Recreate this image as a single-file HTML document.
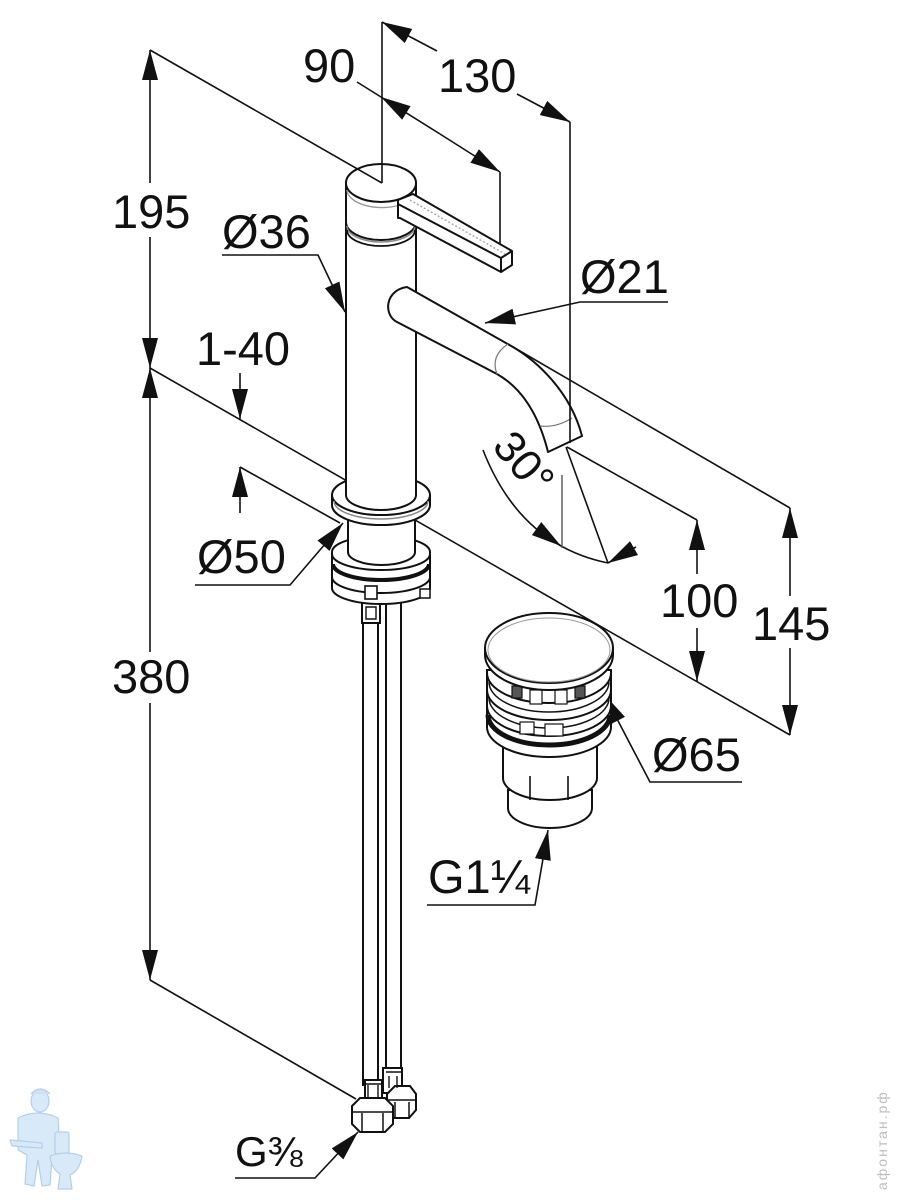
<!DOCTYPE html>
<html><head><meta charset="utf-8"><style>
html,body{margin:0;padding:0;background:#fff;}
svg{display:block;}
text{font-family:"Liberation Sans",Arial,sans-serif;fill:#111;}
</style></head><body>
<svg width="900" height="1200" viewBox="0 0 900 1200" xmlns="http://www.w3.org/2000/svg">
<defs>
<marker id="m" viewBox="0 0 30 16" refX="30" refY="8" markerWidth="30" markerHeight="16" markerUnits="userSpaceOnUse" orient="auto-start-reverse"><path d="M0,0L30,8L0,16z" fill="#111"/></marker>
</defs>
<rect width="900" height="1200" fill="#fff"/>

<!-- dimension / extension lines (back) -->
<g stroke="#111" stroke-width="1.6" fill="none">
<path d="M150,50V183" marker-start="url(#m)"/>
<path d="M150,237V368" marker-end="url(#m)"/>
<path d="M150,368V652" marker-start="url(#m)"/>
<path d="M150,703V980" marker-end="url(#m)"/>
<path d="M150,368L790,735"/>
<path d="M240,467L340,523"/>
<path d="M240,373V419" marker-end="url(#m)"/>
<path d="M240,513V467" marker-end="url(#m)"/>
<path d="M150,980L356,1099"/>
<path d="M382,22L437,51" marker-start="url(#m)"/>
<path d="M517,94L570,122" marker-end="url(#m)"/>
<path d="M357,82L381,97"/>
<path d="M440,134L381,97" marker-end="url(#m)"/>
<path d="M440,134L500,172" marker-end="url(#m)"/>
<path d="M500,172V257"/>
<path d="M513,347L790,508"/>
<path d="M790,508V596" marker-start="url(#m)"/>
<path d="M790,648V735" marker-end="url(#m)"/>
<path d="M567,447L697,520"/>
<path d="M697,520V574" marker-start="url(#m)"/>
<path d="M697,628V681" marker-end="url(#m)"/>
<path d="M483,450Q520,545 608,563"/>
<path d="M540,531L561,546" marker-end="url(#m)"/>
<path d="M636,547L608,563" marker-end="url(#m)"/>
<path d="M566,447L608,563"/>
<path d="M222,255H318L345,312" marker-end="url(#m)"/>
<path d="M668,302H580L485,323" marker-end="url(#m)"/>
<path d="M195,585H290L343,523" marker-end="url(#m)"/>
<path d="M742,782H650L604,694" marker-end="url(#m)"/>
<path d="M427,905H535L548,830" marker-end="url(#m)"/>
<path d="M235,1178H315L358,1132" marker-end="url(#m)"/>
</g>
<path d="M562,475V548" stroke="#555" stroke-width="1.4"/>

<!-- hoses -->
<g stroke="#111" stroke-width="2" fill="#fff">
<rect x="386" y="598" width="15" height="480"/>
<rect x="363" y="610" width="15" height="475"/>
<path d="M362,603h18v20h-18z"/>
<path d="M366,607h10v12h-10z" stroke-width="1.4"/>
<!-- bottom fittings right -->
<path d="M383,1068h19v25h-19z"/>
<path d="M387,1094l8,-8h15l6,8v16l-7,8h-15l-7,-8z"/>
<path d="M387,1100h29M395,1102v16M409,1102v16" stroke-width="1.5" fill="none"/>
<path d="M386,1072h16M389,1076v12M397,1076v12" stroke-width="1.4" fill="none"/>
<!-- bottom fittings left -->
<path d="M365,1080h17v24h-17z"/>
<path d="M352,1106l8,-8h25l8,8v18l-8,8h-25l-8,-8z"/>
<path d="M352,1112h41M362,1113v19M383,1113v19" stroke-width="1.5" fill="none"/>
<path d="M368,1085v13M378,1085v13M365,1084h17" stroke-width="1.4" fill="none"/>
</g>

<!-- base ring stack -->
<g stroke="#111" stroke-width="2" fill="#fff">
<path d="M332,552L332,588A49,16 0 0 0 430,588L430,552A49,16 0 0 0 332,552Z"/>
<path d="M332,554A49,16 0 0 0 430,554" fill="none"/>
<path d="M333,564A48,16 0 0 0 429,564" fill="none" stroke-width="4"/>
<path d="M332,577A49,16 0 0 0 430,577" fill="none"/>
<rect x="365" y="586" width="12" height="13" stroke-width="1.6"/>
<rect x="420" y="589" width="10" height="9" stroke-width="1.5"/>
<!-- neck -->
<path d="M348,512V552A33.5,13 0 0 0 415,552V512Z"/>
<!-- flange -->
<path d="M332,495L332,505A49,20 0 0 0 430,505L430,495Z"/>
<ellipse cx="381" cy="495" rx="49" ry="20"/>
</g>
<path d="M334,501A47,18 0 0 0 428,501" stroke="#888" stroke-width="1.5" fill="none"/>

<!-- stem -->
<path d="M346,222V495A35,15 0 0 0 416,495V222Z" fill="#fff"/>
<path d="M346,222V495A35,15 0 0 0 416,495V222" stroke="#111" stroke-width="2" fill="none"/>

<!-- head -->
<g stroke="#111" stroke-width="2" fill="#fff">
<path d="M346,183L346,222A35,18 0 0 0 416,222L416,183Z"/>
<ellipse cx="381" cy="183" rx="35" ry="19"/>
</g>
<path d="M347,190A35,18 0 0 0 400,205" stroke="#999" stroke-width="1.4" fill="none"/>
<path d="M347,226A34,16 0 0 0 415,226" stroke="#888" stroke-width="1.5" fill="none"/>
<path d="M347,230A34,16 0 0 0 415,230" stroke="#111" stroke-width="1.8" fill="none"/>

<!-- lever -->
<g stroke="#111" stroke-width="2" fill="#fff" stroke-linejoin="round">
<path d="M398,200L413,194L512,251L512,265L501,272L400,218L398,218Z"/>
<path d="M398,204L501,258L512,251M501,258V272" fill="none"/>
</g>
<path d="M410,200L505,254" stroke="#aaa" stroke-width="1.5" stroke-dasharray="2 2" fill="none"/>

<!-- spout -->
<path d="M407,287L513,347C535,360 570,390 582,436L548,452C540,420 525,390 497,374L397,322C383,315 385,290 407,287Z" fill="#fff" stroke="#111" stroke-width="2" stroke-linejoin="round"/>
<path d="M497,374Q490,356 508,344" stroke="#777" stroke-width="1.2" fill="none"/>
<path d="M540,426Q556,428 572,418" stroke="#777" stroke-width="1.2" fill="none"/>

<!-- lines over objects -->
<g stroke="#111" stroke-width="1.6" fill="none">
<path d="M150,50L382,183"/>
<path d="M382,22V183"/>
<path d="M570,122V443"/>
</g>

<!-- drain -->
<g stroke="#111" stroke-width="2" fill="#fff">
<path d="M508,790V808A42,20 0 0 0 592,808V790Z"/>
<path d="M503,740V778A47,22 0 0 0 597,778V740Z"/>
<path d="M530,776V800M568,776V800" fill="none" stroke-width="1.6"/>
<path d="M487,670V727A62,30 0 0 0 611,727V670Z"/>
<path d="M487,673A62,30 0 0 0 611,673" fill="none"/>
<path d="M489,682A60,30 0 0 0 609,682" fill="none" stroke-width="1.5"/>
<path d="M487,690A62,30 0 0 0 611,690" fill="none"/>
<path d="M489,698A60,30 0 0 0 609,698" fill="none" stroke-width="1.5"/>
<path d="M487,706A62,30 0 0 0 611,706" fill="none"/>
<path d="M488,715A61,30 0 0 0 610,715" fill="none" stroke-width="5"/>
</g>
<g fill="#555" stroke="#111" stroke-width="1.2">
<rect x="512" y="686" width="10" height="12"/>
<rect x="530" y="690" width="12" height="14" fill="#fff"/>
<rect x="555" y="690" width="12" height="14" fill="#fff"/>
<rect x="575" y="686" width="10" height="12"/>
<rect x="520" y="722" width="14" height="12" fill="#fff"/>
<rect x="545" y="724" width="18" height="12" fill="#fff"/>
</g>
<g stroke="#111" stroke-width="2" fill="#fff">
<path d="M485,648V655A64,35 0 0 0 613,655V648Z"/>
<ellipse cx="549" cy="648" rx="64" ry="35"/>
</g>
<ellipse cx="549" cy="650" rx="61" ry="32" stroke="#999" stroke-width="1" fill="none"/>

<!-- labels -->
<g font-size="47">
<text x="303" y="82">90</text>
<text x="438" y="92">130</text>
<text x="112" y="228">195</text>
<text x="222" y="248">Ø36</text>
<text x="580" y="293">Ø21</text>
<text x="196" y="365">1-40</text>
<text x="197" y="573">Ø50</text>
<text x="112" y="693">380</text>
<text x="660" y="617">100</text>
<text x="752" y="640">145</text>
<text x="652" y="771">Ø65</text>
<text x="428" y="893">G1¼</text>
<text x="491" y="447" font-size="44" transform="rotate(50 491 447)">30°</text>
</g>
<text x="235" y="1166" font-size="42">G⅜</text>

<!-- logo -->
<g fill="#d8e9f7" stroke="#b3d0ea" stroke-width="1.2">
<path d="M18,1118Q38,1108 58,1118L60,1150L52,1158L50,1185L42,1186L38,1160L34,1186L25,1184L27,1155L18,1150Z"/>
<ellipse cx="40" cy="1101" rx="9" ry="11"/>
<path d="M31,1094Q40,1084 50,1094" fill="#cfe2f3"/>
<path d="M10,1140L42,1143L42,1148L12,1146Z"/>
<rect x="55" y="1132" width="14" height="22" rx="2"/>
<path d="M50,1156Q66,1150 82,1156Q80,1170 70,1175L72,1189L58,1189L60,1174Q51,1168 50,1156Z"/>
</g>

<!-- watermark -->
<text x="0" y="0" font-size="14" letter-spacing="2" style="fill:#bdbdbd" transform="translate(887,1190) rotate(-90)">афонтан.рф</text>
</svg>
</body></html>
